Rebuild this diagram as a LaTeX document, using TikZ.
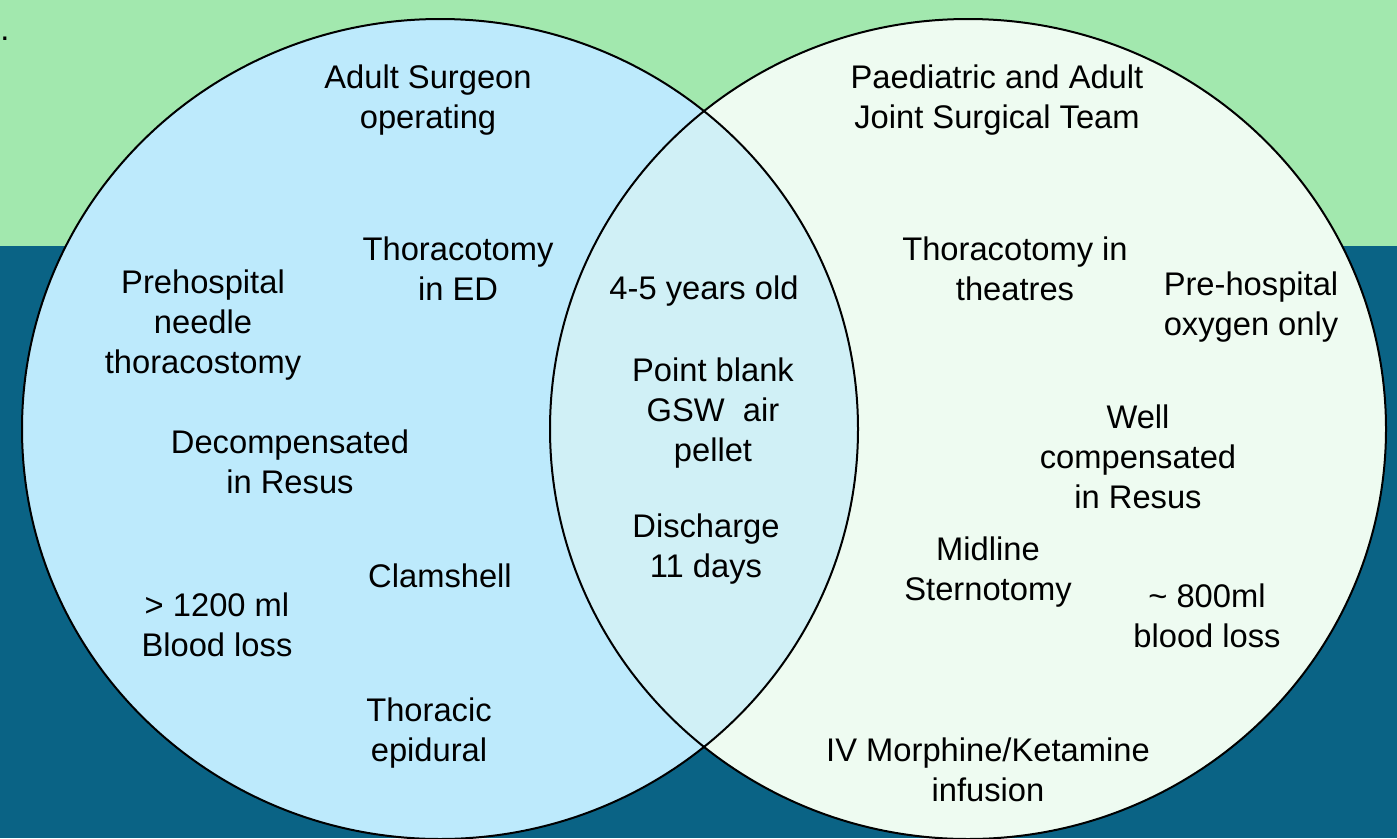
\documentclass[tikz,border=0pt]{standalone}
\usepackage{fontspec}
\setmainfont{Liberation Sans}
\definecolor{topgreen}{HTML}{A2E8AE}
\definecolor{deepteal}{HTML}{0A6385}
\definecolor{adultblue}{HTML}{BDEAFC}
\definecolor{paedmint}{HTML}{EEFBF1}
\definecolor{sharedblue}{HTML}{D0F0F6}
\tikzset{
  lbl/.style={align=center, text=black, inner sep=0pt, yshift=-2.5pt,
    font=\fontsize{32.7}{40}\selectfont},
  rim/.style={draw=black, line width=2pt}
}
\begin{document}
\begin{tikzpicture}[x=1pt,y=-1pt]

\useasboundingbox (0,0) rectangle (1397,838);

% background bands
\fill [deepteal] (0,0) rectangle (1397,838);
\fill [topgreen] (0,0) rectangle (1397,246);

% the two sets
\fill [adultblue] (440,429) ellipse (418pt and 410pt);
\fill [paedmint] (968,429) ellipse (418pt and 410pt);
\begin{scope}
  \clip (440,429) ellipse (418pt and 410pt);
  \fill [sharedblue] (968,429) ellipse (418pt and 410pt);
\end{scope}
\draw [rim] (440,429) ellipse (418pt and 410pt);
\draw [rim] (968,429) ellipse (418pt and 410pt);

\node at (5,36) [lbl] {.};

% adult side
\node (adult) at (428,98) [lbl] {Adult Surgeon\\operating};
\node (edthor) at (458,266) [lbl] {Thoracotomy\\in ED};
\node (needle) at (203,323) [lbl] {Prehospital\\needle\\thoracostomy};
\node (decomp) at (290,459) [lbl] {Decompensated\\in Resus};
\node (clam) at (440,573) [lbl] {Clamshell};
\node (bigloss) at (217,622) [lbl] {> 1200 ml\\Blood loss};
\node (epidural) at (429,731) [lbl] {Thoracic\\epidural};

% shared
\node (age) at (704,289) [lbl] {4-5 years old};
\node (gsw) at (713,411) [lbl] {Point blank\\GSW\ \ air\\pellet};
\node (discharge) at (706,547) [lbl] {Discharge\\11 days};

% joint side
\node (joint) at (997,98) [lbl] {Paediatric and Adult\\Joint Surgical Team};
\node (ththor) at (1015,266) [lbl] {Thoracotomy in\\theatres};
\node (oxygen) at (1251,305) [lbl] {Pre-hospital\\oxygen only};
\node (comp) at (1138,454) [lbl] {Well\\compensated\\in Resus};
\node (sterno) at (988,570) [lbl] {Midline\\Sternotomy};
\node (smallloss) at (1207,613) [lbl] {\textasciitilde{} 800ml\\blood loss};
\node (analg) at (988,767) [lbl] {IV Morphine/Ketamine\\infusion};

\end{tikzpicture}
\end{document}
